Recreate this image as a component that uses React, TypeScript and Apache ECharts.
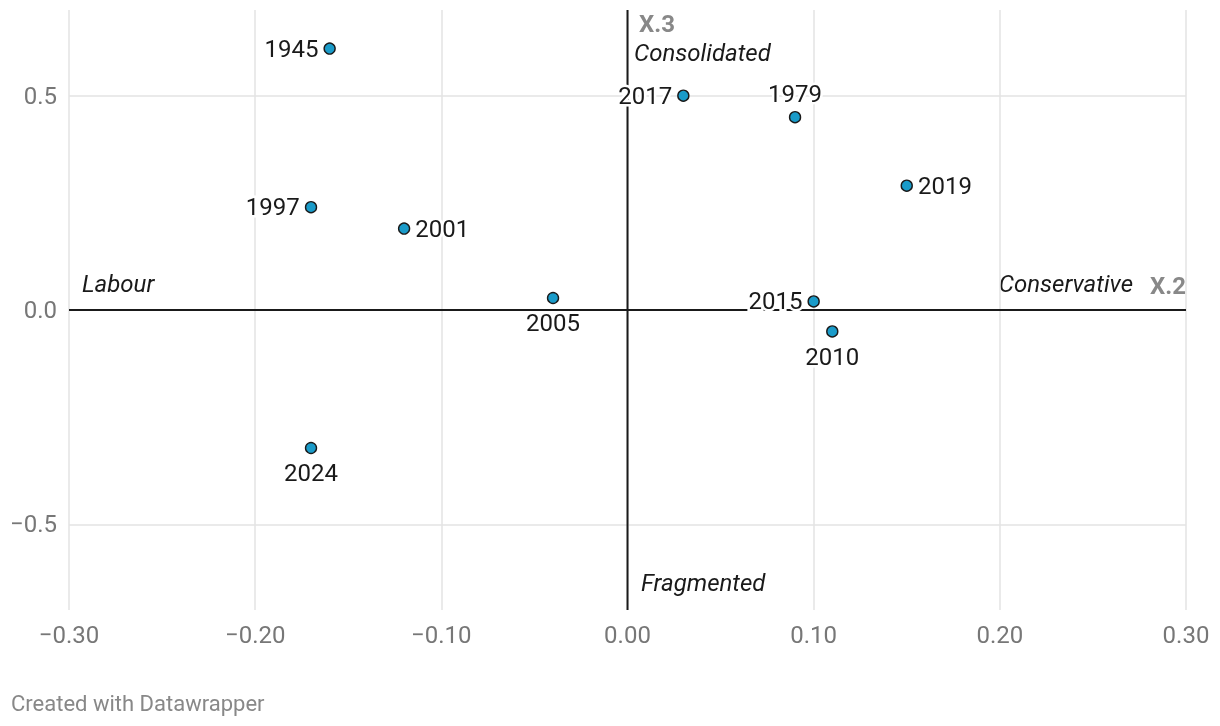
import React, { useEffect, useRef } from "react";
import * as echarts from "echarts";

const years = ["1945", "2017", "1979", "2019", "1997", "2001", "2005", "2015", "2010", "2024"];
const x2Values = [-0.16, 0.03, 0.09, 0.15, -0.17, -0.12, -0.04, 0.1, 0.11, -0.17];
const x3Values = [0.61, 0.5, 0.45, 0.29, 0.24, 0.19, 0.028, 0.02, -0.05, -0.322];
const labelPositions = ["left", "left", "top", "right", "left", "right", "bottom", "left", "bottom", "bottom"];
const yTicks = [-0.5, 0, 0.5];

const FONT = "Roboto, 'Noto Sans', sans-serif";

export default function App() {
  const ref = useRef<HTMLDivElement>(null);
  useEffect(() => {
    if (!ref.current) return;
    const chart = echarts.init(ref.current, undefined, { renderer: "svg" });
    const fmt = (v: number) => {
      const s = Math.abs(v).toFixed(2);
      return v < -1e-9 ? "\u2212" + s : s;
    };
    const fmtY = (v: number) => {
      const s = Math.abs(v).toFixed(1);
      return v < -1e-9 ? "\u2212" + s : s;
    };
    chart.setOption({
      animation: false,
      textStyle: { fontFamily: FONT },
      grid: { left: 69, right: 34, top: 10, bottom: 116, containLabel: false },
      xAxis: {
        type: "value",
        min: -0.3,
        max: 0.3,
        interval: 0.1,
        axisLine: { show: false },
        axisTick: { show: false },
        splitLine: { show: true, lineStyle: { color: "#e3e3e3", width: 1.5 } },
        axisLabel: { formatter: fmt, color: "#777", fontSize: 24, margin: 13, fontFamily: FONT },
      },
      yAxis: {
        type: "value",
        min: -0.7,
        max: 0.7,
        axisLine: { show: false },
        axisTick: { show: false, customValues: yTicks },
        splitLine: { show: true, lineStyle: { color: "#e3e3e3", width: 1.5 } },
        axisLabel: { customValues: yTicks, formatter: fmtY, color: "#777", fontSize: 24, margin: 12, fontFamily: FONT },
      },
      series: [
        {
          type: "line",
          data: [[-0.3, 0], [0.3, 0]],
          symbol: "none",
          lineStyle: { color: "#1a1a1a", width: 2 },
          z: 1,
          silent: true,
        },
        {
          type: "line",
          data: [[0, -0.7], [0, 0.7]],
          symbol: "none",
          lineStyle: { color: "#1a1a1a", width: 2 },
          z: 1,
          silent: true,
        },
        {
          type: "scatter",
          z: 3,
          symbolSize: 11,
          itemStyle: { color: "#1a9bc9", borderColor: "#1a1a1a", borderWidth: 1.4, opacity: 1 },
          data: years.map((y, i) => ({
            value: [x2Values[i], x3Values[i]],
            name: y,
            label: {
              show: true,
              position: labelPositions[i],
              distance: labelPositions[i] === "bottom" ? 7 : 5,
              formatter: y,
              color: "#1a1a1a",
              fontSize: 24,
              fontFamily: FONT,
              textBorderColor: "#fff",
              textBorderWidth: 5,
            },
          })),
        },
      ],
      graphic: [
        { type: "text", left: 639, top: 12, style: { text: "X.3", fill: "#888", font: `bold 24px ${FONT}` } },
        { type: "text", left: 634, top: 41, style: { text: "Consolidated", fill: "#1a1a1a", font: `italic 24px ${FONT}` } },
        { type: "text", left: 82, top: 272, style: { text: "Labour", fill: "#1a1a1a", font: `italic 24px ${FONT}` } },
        { type: "text", right: 1220 - 1133, top: 272, style: { text: "Conservative", fill: "#1a1a1a", font: `italic 24px ${FONT}` } },
        { type: "text", right: 1220 - 1186, top: 274, style: { text: "X.2", fill: "#888", font: `bold 24px ${FONT}` } },
        { type: "text", left: 641, top: 571, style: { text: "Fragmented", fill: "#1a1a1a", font: `italic 24px ${FONT}` } },
        { type: "text", left: 11, top: 692, style: { text: "Created with Datawrapper", fill: "#888", font: `22px ${FONT}` } },
      ],
    });
    return () => chart.dispose();
  }, []);
  return <div ref={ref} style={{ position: "fixed", left: 0, top: 0, width: 1220, height: 726 }} />;
}
